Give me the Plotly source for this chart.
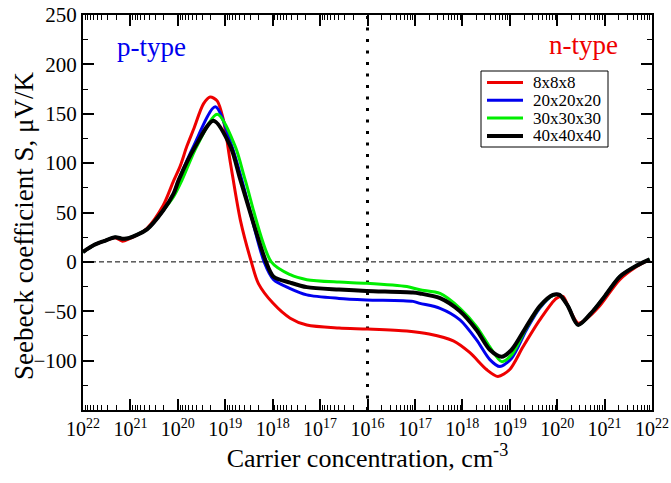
import numpy as np
import plotly.graph_objects as go

# x position: decades from 10^16 (negative = p-type side, positive = n-type side)
x_8 = [-6.0, -5.77, -5.56, -5.32, -5.17, -5.04, -4.65, -4.31, -4.09, -3.95, -3.81, -3.67, -3.46, -3.32,
       -3.17, -3.04, -2.89, -2.68, -2.45, -2.30, -1.99, -1.63, -1.28, -0.6, 0.0, 0.83, 1.3, 1.81, 2.16,
       2.51, 2.75, 3.0, 3.28, 3.63, 3.98, 4.12, 4.26, 4.44, 4.61, 4.89, 5.32, 5.67, 5.95]
s_8 = [10, 17, 21, 24.5, 21, 23, 34, 57, 82, 97, 117, 134, 160, 167,
       163, 144, 100, 42, 0, -22, -42, -57, -64, -67, -68, -70, -73, -80, -92,
       -109, -116, -109, -86, -59, -37, -35, -48, -62, -58, -45, -18, -5, 2.5]

x_20 = [-6.0, -5.77, -5.56, -5.32, -5.17, -5.04, -4.65, -4.31, -4.09, -3.98, -3.67, -3.21, -2.86, -2.65,
        -2.18, -1.98, -1.63, -1.28, -0.6, -0.02, 0.96, 1.105, 1.53, 1.95, 2.3, 2.58, 2.79, 3.04, 3.35,
        3.63, 3.91, 4.05, 4.23, 4.44, 4.75, 5.0, 5.32, 5.67, 5.95]
s_20 = [10, 17, 21, 25, 23.5, 24, 33, 52, 69, 83, 117, 157, 117, 83,
        0, -18, -27, -33.4, -37, -38.5, -40, -42, -47, -58.7, -79, -99, -106, -97.5, -69,
        -47, -34, -33.4, -45, -63.8, -50, -35, -15, -4, 2.5]

x_30 = [-6.0, -5.77, -5.56, -5.32, -5.17, -5.04, -4.65, -4.31, -4.09, -3.91, -3.6, -3.17, -2.79, -2.58,
        -2.03, -1.63, -1.28, -0.6, -0.02, 0.83, 1.105, 1.53, 1.95, 2.3, 2.58, 2.83, 3.04, 3.35,
        3.63, 3.91, 4.05, 4.23, 4.44, 4.75, 5.0, 5.32, 5.67, 5.95]
s_30 = [10, 17, 21, 25, 23.5, 24, 33, 52, 66, 83, 117, 149.5, 117, 83,
        0, -13, -18, -20.5, -21.6, -25, -28.3, -32, -47, -65.5, -86, -101, -94, -67,
        -46, -34, -33.4, -45, -63.8, -50, -35, -15, -4, 2.5]

x_40 = [-6.0, -5.77, -5.56, -5.32, -5.17, -5.04, -4.65, -4.31, -4.09, -3.98, -3.63, -3.25, -2.89, -2.68,
        -2.14, -1.98, -1.63, -1.28, -0.6, -0.02, 0.96, 1.105, 1.53, 1.95, 2.3, 2.58, 2.83, 3.04, 3.35,
        3.63, 3.91, 4.05, 4.23, 4.44, 4.75, 5.0, 5.32, 5.67, 5.95]
s_40 = [10, 17, 21, 25, 23.5, 24, 33, 52, 69, 83, 117, 143, 117, 83,
        0, -15, -21, -25.6, -28, -29.4, -31, -32, -36.7, -50, -69, -89, -96, -89, -65.5,
        -45, -33.4, -33.4, -45, -63.8, -50, -35, -15, -4, 2.5]

series_names = ["8x8x8", "20x20x20", "30x30x30", "40x40x40"]
series_colors = ["#ee0000", "#0000ee", "#00ee00", "#000000"]
series_widths = [3, 3, 3, 4]

tick_pos = list(range(-6, 7))
tick_exp = [22, 21, 20, 19, 18, 17, 16, 17, 18, 19, 20, 21, 22]
tick_text = ["10<sup>%d</sup>" % e for e in tick_exp]

y_ticks = [-100, -50, 0, 50, 100, 150, 200, 250]
y_minor = [-125, -75, -25, 25, 75, 125, 175, 225]

minor_x = []
for k in range(6):
    for m in range(2, 10):
        minor_x.append(-5 + k - np.log10(m))
        minor_x.append(k + np.log10(m))

FONT = "Liberation Serif"

# the page body margin is removed by a post script, so figure pixels = screen pixels
FW, FH = 671, 483
L, R, T, B = 83, 652, 15, 410
W_, H_ = R - L, B - T
def px2x(px):
    return (px - L) / W_
def py2y(py):
    return (B - py) / H_

fig = go.Figure()
for xs, ss, name, col, w in zip([x_8, x_20, x_30, x_40], [s_8, s_20, s_30, s_40],
                                series_names, series_colors, series_widths):
    fig.add_trace(go.Scatter(x=xs, y=ss, mode="lines", name=name, showlegend=False,
                             line=dict(color=col, width=w, shape="spline", smoothing=0.8)))

fig.add_shape(type="line", xref="x", yref="y", x0=-6, x1=6, y0=0, y1=0,
              line=dict(color="black", width=1, dash="5px,3px"), layer="below")
fig.add_shape(type="line", xref="x", yref="y", x0=0, x1=0, y0=-150, y1=250,
              line=dict(color="black", width=3, dash="3px,8.5px"), layer="below")

fig.add_annotation(x=-4.55, y=218, xref="x", yref="y", text="p-type", showarrow=False,
                   font=dict(family=FONT, size=27, color="#0000ee"))
fig.add_annotation(x=4.55, y=220, xref="x", yref="y", text="n-type", showarrow=False,
                   font=dict(family=FONT, size=27, color="#ee0000"))

# y-axis title
fig.add_annotation(x=px2x(24), y=py2y(226), xref="paper", yref="paper", textangle=-90,
                   xanchor="center", yanchor="middle", showarrow=False,
                   text="Seebeck coefficient S, μV/K",
                   font=dict(family=FONT, size=27, color="black"))

# legend box
fig.add_shape(type="rect", xref="paper", yref="paper",
              x0=px2x(481), x1=px2x(608), y0=py2y(147), y1=py2y(71),
              line=dict(color="black", width=1), fillcolor="white", layer="above")
row_y = [82.5, 100.3, 118.1, 135.9]
for name, col, w, ry in zip(series_names, series_colors, series_widths, row_y):
    fig.add_shape(type="line", xref="paper", yref="paper",
                  x0=px2x(487), x1=px2x(523), y0=py2y(ry), y1=py2y(ry),
                  line=dict(color=col, width=w), layer="above")
    fig.add_annotation(x=px2x(532), y=py2y(ry), xref="paper", yref="paper",
                       xanchor="left", yanchor="middle", text=name, showarrow=False,
                       height=17, valign="middle", borderpad=0,
                       font=dict(family=FONT, size=17, color="black"))

fig.update_layout(
    width=FW, height=FH,
    margin=dict(l=L, r=FW - R, t=T, b=FH - B),
    paper_bgcolor="white", plot_bgcolor="white",
    font=dict(family=FONT, color="black", size=21),
    showlegend=False,
    xaxis=dict(range=[-6, 6], tickmode="array", tickvals=tick_pos, ticktext=tick_text,
               automargin=False, ticklabeloverflow="allow",
               ticks="inside", ticklen=11, tickwidth=1.5, tickcolor="black",
               showline=True, linewidth=2, linecolor="black", mirror="ticks",
               showgrid=False, zeroline=False,
               tickfont=dict(family=FONT, size=20),
               minor=dict(tickmode="array", tickvals=minor_x, ticks="inside", ticklen=5,
                          tickwidth=1, tickcolor="black", showgrid=False),
               title=dict(text="Carrier concentration, cm<sup>-3</sup>",
                          font=dict(family=FONT, size=26), standoff=4)),
    yaxis=dict(range=[-150, 250], tickmode="array", tickvals=y_ticks,
               automargin=False, ticklabeloverflow="allow",
               ticks="inside", ticklen=11, tickwidth=1.5, tickcolor="black",
               showline=True, linewidth=2, linecolor="black", mirror="ticks",
               showgrid=False, zeroline=False,
               tickfont=dict(family=FONT, size=21),
               minor=dict(tickmode="array", tickvals=y_minor,
                          ticks="inside", ticklen=5, tickwidth=1, tickcolor="black", showgrid=False)),
)

fig.write_html("out.html", config={"displayModeBar": False},
               post_script="document.body.style.margin='0';document.body.style.overflow='hidden';")
